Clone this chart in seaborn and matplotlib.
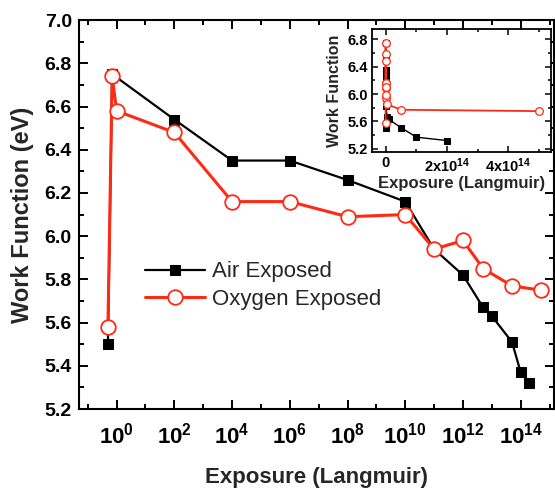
import matplotlib
matplotlib.use("Agg")
import matplotlib.pyplot as plt
import numpy as np
import pandas as pd
import seaborn as sns
from matplotlib.ticker import FixedLocator, FuncFormatter, MultipleLocator, NullFormatter

# Work function vs. exposure (Langmuir)
air_exposure = [0.5, 0.7, 1e2, 1e4, 1e6, 1e8, 1e10, 1e11, 1e12, 5e12, 1e13, 5e13, 1e14, 2e14]
air_wf = [5.50, 6.75, 6.54, 6.35, 6.35, 6.26, 6.16, 5.94, 5.82, 5.67, 5.63, 5.51, 5.37, 5.32]

oxy_exposure = [0.5, 0.7, 1.0, 1e2, 1e4, 1e6, 1e8, 1e10, 1e11, 1e12, 5e12, 5e13, 5e14]
oxy_wf = [5.58, 6.74, 6.58, 6.48, 6.16, 6.16, 6.09, 6.10, 5.94, 5.98, 5.85, 5.77, 5.75]

series_names = ["Air Exposed", "Oxygen Exposed"]
main_xticks = [10.0 ** p for p in range(0, 15, 2)]
main_xminor = [10.0 ** p for p in range(-1, 16, 2)]
inset_xticks = [0, 2e14, 4e14]
inset_xlabels = ["0", r"2x10$^{\mathbf{14}}$", r"4x10$^{\mathbf{14}}$"]

air = pd.DataFrame({"exposure": air_exposure, "wf": air_wf})
oxy = pd.DataFrame({"exposure": oxy_exposure, "wf": oxy_wf})

sns.set_style("ticks")
plt.rcParams["font.family"] = ["Liberation Sans", "DejaVu Sans"]
plt.rcParams["mathtext.fontset"] = "custom"
plt.rcParams["mathtext.rm"] = "Liberation Sans:bold"
plt.rcParams["mathtext.bf"] = "Liberation Sans:bold"
plt.rcParams["mathtext.default"] = "bf"

BLACK = "#000000"
RED = "#ff2a14"

fig = plt.figure(figsize=(5.55, 4.91), dpi=100)
ax = fig.add_axes([0.142, 0.167, 0.856, 0.792])

sns.lineplot(data=air, x="exposure", y="wf", ax=ax, sort=False, estimator=None,
             color=BLACK, lw=1.6, marker="s", markersize=7.5, markerfacecolor=BLACK,
             markeredgecolor=BLACK, label=series_names[0], zorder=3)
sns.lineplot(data=oxy, x="exposure", y="wf", ax=ax, sort=False, estimator=None,
             color=RED, lw=2.2, marker="o", markersize=10.5, markerfacecolor="white",
             markeredgecolor=RED, markeredgewidth=1.3, label=series_names[1], zorder=4)

ax.set_xscale("log")
ax.set_xlim(10 ** -1.31, 10 ** 15.15)
ax.set_ylim(5.2, 7.0)
ax.xaxis.set_major_locator(FixedLocator(main_xticks))
ax.xaxis.set_minor_locator(FixedLocator(main_xminor))
ax.xaxis.set_major_formatter(FuncFormatter(lambda v, p: r"$10^{%d}$" % round(np.log10(v))))
ax.xaxis.set_minor_formatter(NullFormatter())
ax.yaxis.set_major_locator(MultipleLocator(0.2))
ax.yaxis.set_minor_locator(MultipleLocator(0.1))
ax.yaxis.set_major_formatter(FuncFormatter(lambda v, p: f"{v:.1f}"))

for s in ax.spines.values():
    s.set_linewidth(1.5)
    s.set_color("black")
ax.tick_params(which="both", direction="in", top=True, right=True, width=1.4, colors="black")
ax.tick_params(which="major", length=6.5)
ax.tick_params(which="minor", length=3.5)
ax.tick_params(axis="y", which="major", labelsize=14, pad=5)
ax.tick_params(axis="x", which="major", labelsize=16, pad=10)
for t in ax.get_yticklabels():
    t.set_fontweight("bold")

ax.set_xlabel("Exposure (Langmuir)", fontsize=16, fontweight="bold", labelpad=13)
ax.set_ylabel("Work Function (eV)", fontsize=17, fontweight="bold", labelpad=8)

leg = ax.legend(loc="center left", bbox_to_anchor=(0.139, 0.317), frameon=False,
                fontsize=16, handlelength=2.7, handletextpad=0.3, labelspacing=0.3,
                borderpad=0, borderaxespad=0)

# Inset: same data on a linear exposure axis
ins = fig.add_axes([0.670, 0.690, 0.323, 0.251])
ins.set_facecolor("white")
sns.lineplot(data=air, x="exposure", y="wf", ax=ins, sort=False, estimator=None,
             color=BLACK, lw=1.0, marker="s", markersize=4, markerfacecolor=BLACK,
             markeredgecolor=BLACK, legend=False, zorder=3)
sns.lineplot(data=oxy, x="exposure", y="wf", ax=ins, sort=False, estimator=None,
             color=RED, lw=1.3, marker="o", markersize=5.5, markerfacecolor="white",
             markeredgecolor=RED, markeredgewidth=0.9, legend=False, zorder=4)
ins.set_xlim(-0.45e14, 5.4e14)
ins.set_ylim(5.15, 6.95)
ins.xaxis.set_major_locator(FixedLocator(inset_xticks))
ins.xaxis.set_minor_locator(FixedLocator([1e14, 3e14, 5e14]))
ins.set_xticklabels(inset_xlabels)
ins.yaxis.set_major_locator(MultipleLocator(0.4))
ins.yaxis.set_minor_locator(MultipleLocator(0.2))
ins.yaxis.set_major_formatter(FuncFormatter(lambda v, p: f"{v:.1f}"))
for s in ins.spines.values():
    s.set_linewidth(1.3)
    s.set_color("black")
ins.tick_params(which="both", direction="in", top=True, right=True, width=1.1, colors="black")
ins.tick_params(which="major", length=4.5, labelsize=10.5, pad=3)
ins.tick_params(which="minor", length=2.5)
for t in ins.get_xticklabels() + ins.get_yticklabels():
    t.set_fontweight("bold")
ins.set_xlabel("Exposure (Langmuir)", fontsize=12, fontweight="bold", labelpad=1)
ins.set_ylabel("Work Function", fontsize=11.5, fontweight="bold", labelpad=4)

fig.savefig("out.png", dpi=100, facecolor="white")
